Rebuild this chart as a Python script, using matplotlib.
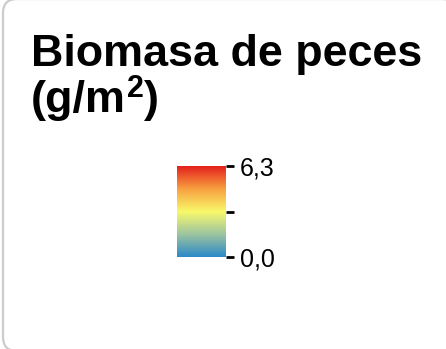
import matplotlib
matplotlib.use("Agg")
import matplotlib.pyplot as plt
from matplotlib.colors import LinearSegmentedColormap, Normalize
from matplotlib.cm import ScalarMappable
from matplotlib.patches import FancyBboxPatch
from matplotlib.transforms import IdentityTransform, offset_copy

plt.rcParams["font.family"] = ["Liberation Sans", "DejaVu Sans"]

# Legend content
title_line1 = "Biomasa de peces"
title_unit = "(g/m"
title_exp = "2"
title_close = ")"
vmin, vmax = 0.0, 6.3
tick_values = [0.0, 3.15, 6.3]
tick_labels = ["0,0", "", "6,3"]
ramp_colors = ["#2b88c8", "#9cc4a0", "#f8f86a", "#f8a040", "#e3201b"]

W, H, DPI = 446, 349, 100
fig = plt.figure(figsize=(W / DPI, H / DPI), dpi=DPI)
fig.patch.set_facecolor("white")

# Rounded frame around the legend (pixel coordinates), behind everything else
frame = FancyBboxPatch((3, -2), W + 7, H + 3,
                       boxstyle="round,pad=0,rounding_size=14",
                       transform=IdentityTransform(), facecolor="white",
                       edgecolor="#cccccc", linewidth=1.6, clip_on=False,
                       zorder=-10)
fig.patches.append(frame)

TITLE_SIZE = 32.3
BASE2 = 1 - 112 / H
fig.text(31 / W, 1 - 66 / H, title_line1, fontsize=TITLE_SIZE,
         fontweight="bold", ha="left", va="baseline")
unit = fig.text(31 / W, BASE2, title_unit, fontsize=TITLE_SIZE,
                fontweight="bold", ha="left", va="baseline")

# Superscript and closing parenthesis placed after the unit text
renderer = fig.canvas.get_renderer()
ext = unit.get_window_extent(renderer)
raised = offset_copy(fig.transFigure, fig=fig, x=0, y=15, units="dots")
exp = fig.text(ext.x1 / W + 0.002, BASE2, title_exp, fontsize=22,
               fontweight="bold", ha="left", va="baseline", transform=raised)
ext2 = exp.get_window_extent(renderer)
fig.text(ext2.x1 / W, BASE2, title_close, fontsize=TITLE_SIZE,
         fontweight="bold", ha="left", va="baseline")

cmap = LinearSegmentedColormap.from_list("biomasa", ramp_colors)
cax = fig.add_axes([177 / W, 1 - 257 / H, 49 / W, 91 / H])
cax.set_zorder(5)
sm = ScalarMappable(norm=Normalize(vmin=vmin, vmax=vmax), cmap=cmap)
cb = fig.colorbar(sm, cax=cax, ticks=tick_values)
cb.outline.set_visible(False)
cb.ax.set_yticklabels(tick_labels)
cb.ax.tick_params(length=6, width=2, labelsize=18, pad=4, color="black")

fig.savefig("out.png", dpi=DPI, facecolor="white")
